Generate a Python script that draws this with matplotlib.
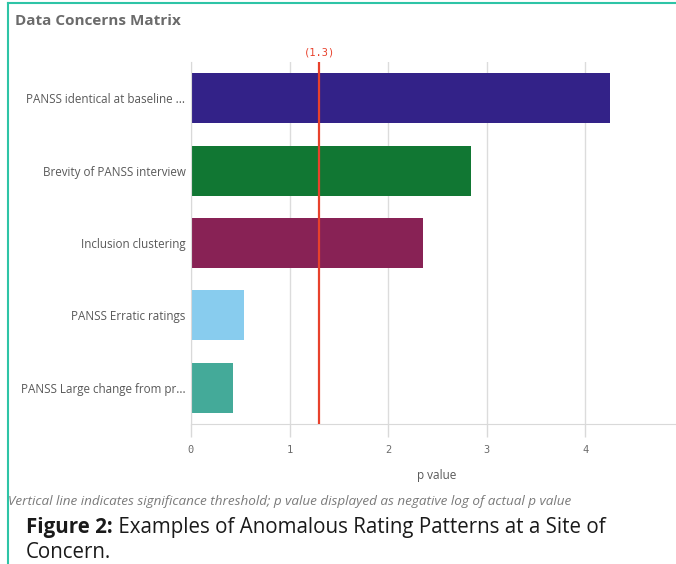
import matplotlib.pyplot as plt
from matplotlib.lines import Line2D

categories = ["PANSS identical at baseline ...", "Brevity of PANSS interview",
              "Inclusion clustering", "PANSS Erratic ratings",
              "PANSS Large change from pr..."]
p_values = [4.25, 2.84, 2.35, 0.54, 0.43]
bar_colors = ["#332288", "#117733", "#882255", "#88CCEE", "#44AA99"]
threshold = 1.3
x_ticks = [0, 1, 2, 3, 4]

W, H = 676, 564
fig = plt.figure(figsize=(W / 100, H / 100), dpi=100)

def fx(px):
    return px / W

def fy(py):
    return 1 - py / H

# axes: x=0 at px 191, 98.6 px per unit; plot band y 62..424
x0, unit = 191, 98.6
xmax = 5.1
ax = fig.add_axes([fx(x0), fy(424), xmax * unit / W, (424 - 62) / H])

ypos = list(range(len(categories)))
ax.barh(ypos, p_values, height=0.69, color=bar_colors, zorder=2)
ax.set_ylim(len(categories) - 0.5, -0.5)
ax.set_xlim(0, xmax)
ax.set_xticks(x_ticks)
ax.set_xticklabels([str(t) for t in x_ticks], family="DejaVu Sans Mono",
                   fontsize=7.5, color="#6b6b6b")
ax.set_yticks(ypos)
ax.set_yticklabels(categories, fontsize=8.4, color="#595959", family="Open Sans")
ax.tick_params(axis="y", length=0, pad=4)
ax.tick_params(axis="x", length=9, width=1, color="#d9d9d9", pad=6)
ax.grid(axis="x", color="#dcdcdc", lw=1, zorder=0)
for s in ["top", "right"]:
    ax.spines[s].set_visible(False)
ax.spines["left"].set_color("#d9d9d9")
ax.spines["bottom"].set_color("#d9d9d9")
ax.set_xlabel("p value", fontsize=8.5, color="#595959", family="Open Sans")
ax.xaxis.set_label_coords((437 - x0) / (xmax * unit), -0.125)

ax.axvline(threshold, color="#e8412c", lw=1.6, zorder=3)
ax.annotate("(%.1f)" % threshold, xy=(threshold, 1), xycoords=("data", "axes fraction"),
            xytext=(0, 3), textcoords="offset points", ha="center", va="bottom",
            fontsize=7.5, color="#e8412c", family="DejaVu Sans Mono")

fig.text(fx(15), fy(21), "Data Concerns Matrix", fontsize=11, fontweight="bold",
         color="#6b6b6b", family="Open Sans", va="center")
fig.text(fx(8), fy(501), "Vertical line indicates significance threshold; p value displayed as negative log of actual p value",
         fontsize=9.7, style="italic", color="#7a7a7a", family="Open Sans", va="center")

cap = fig.text(fx(26), fy(527), "Figure 2:", fontsize=14.8, fontweight="bold",
               color="#1a1a1a", family="Open Sans", va="center")
fig.canvas.draw()
bb = cap.get_window_extent()
fig.text(bb.x1 / W, fy(527), " Examples of Anomalous Rating Patterns at a Site of",
         fontsize=14.8, color="#1a1a1a", family="Open Sans", va="center")
fig.text(fx(26), fy(553), "Concern.", fontsize=14.8, color="#1a1a1a",
         family="Open Sans", va="center")

# teal frame
fig.add_artist(Line2D([fx(8), 1], [fy(3), fy(3)], color="#2ec4a6", lw=1.5))
fig.add_artist(Line2D([fx(8), fx(8)], [fy(3), 0], color="#2ec4a6", lw=1.5))

fig.savefig("out.png", dpi=100)
